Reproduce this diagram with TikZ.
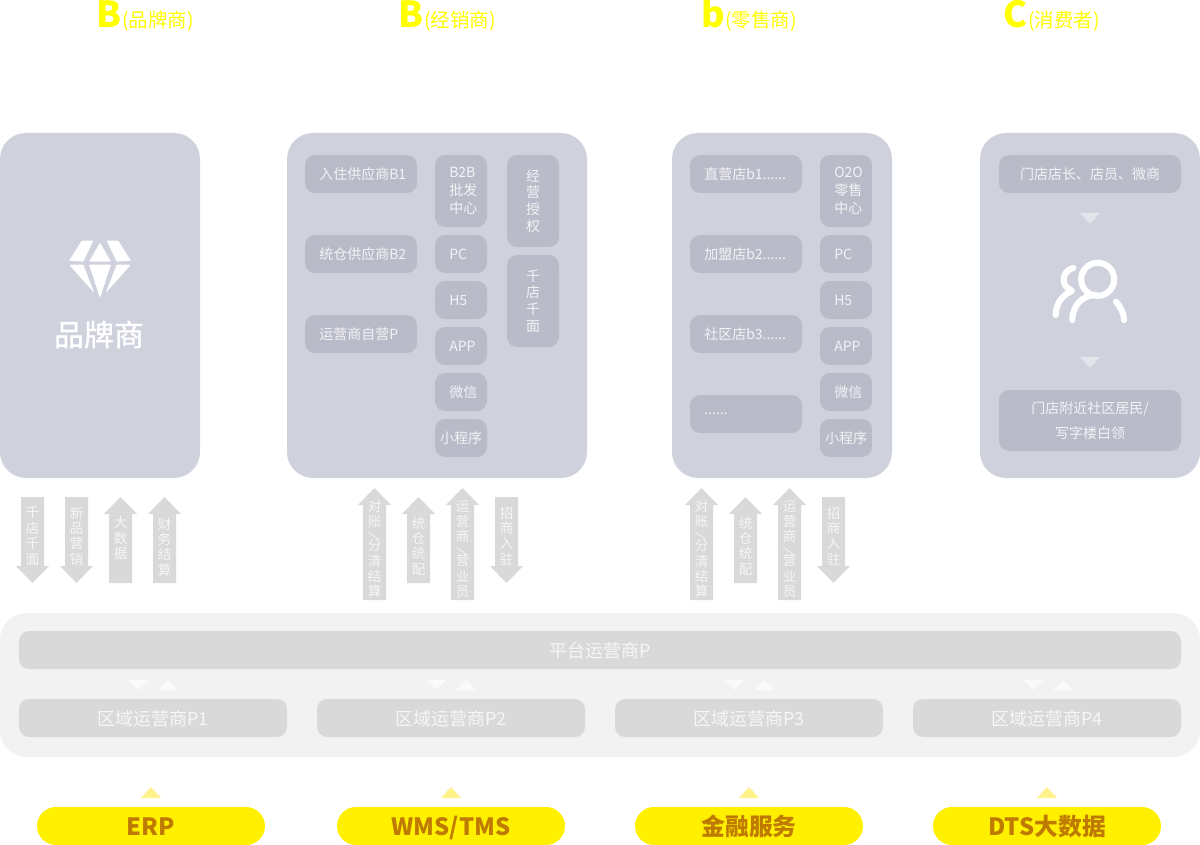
\documentclass[tikz,border=0pt]{standalone}
\usepackage{fontspec}
\usepackage{graphicx}
\setmainfont{Noto Sans CJK SC}
\newfontfamily\medf{Noto Sans CJK SC Medium}
\newcommand\fz[2]{\fontsize{\dimexpr#1pt*3/4\relax}{\dimexpr#2pt*3/4\relax}\selectfont}
\definecolor{panelc}{HTML}{CFD1DD}
\definecolor{innerc}{HTML}{B9BBC8}
\definecolor{intext}{HTML}{F3F3F6}
\definecolor{platc}{HTML}{F2F2F2}
\definecolor{barc}{HTML}{D9D9D9}
\definecolor{bartext}{HTML}{F6F6F6}
\definecolor{pillc}{HTML}{FFF000}
\definecolor{pilltext}{HTML}{BF7A00}
\definecolor{titlec}{HTML}{FFFF00}
\definecolor{tripale}{HTML}{E4E5EB}
\definecolor{triyel}{HTML}{FFF28A}
\definecolor{triwhite}{HTML}{FAFAFA}
\tikzset{
  x=0.75pt,y=-0.75pt,
  panelbox/.style={fill=panelc,rounded corners=19.5pt},
  innerbox/.style={fill=innerc,rounded corners=7.5pt},
  platbox/.style={fill=platc,rounded corners=20pt},
  barbox/.style={fill=barc,rounded corners=7.5pt},
  pillbox/.style={fill=pillc,rounded corners=14.25pt},
  intxt/.style={text=intext,inner sep=0pt,align=center,font=\fz{14}{18.3}},
  inleft/.style={text=intext,inner sep=0pt,align=left,anchor=west,font=\fz{14}{18.3}},
  stacktxt/.style={text=intext,inner sep=0pt,align=center,font=\fz{14}{16.7}},
  bartxt/.style={text=bartext,inner sep=0pt,align=center,yshift=-0.5pt,font=\fz{17.9}{20}},
  pilltxt/.style={text=pilltext,inner sep=0pt,text height=17pt,text depth=3pt,font=\fz{23.8}{28}\bfseries},
  arrtxt/.style={text=bartext,inner sep=0pt,align=center,font=\fz{13.5}{15.4}},
  bigletter/.style={text=titlec,inner sep=0pt,anchor=base west,font=\fz{36}{40}\bfseries},
  smalltitle/.style={text=titlec,inner sep=0pt,anchor=base west,font=\fz{19.5}{22}},
  iconline/.style={draw=white,line width=4.6pt,line cap=round,line join=round},
  gem/.style={fill=white,rounded corners=0.6pt},
}
% name, x1,y1,x2,y2, text
\newcommand\ibox[6]{\path[innerbox] (#2,#3) rectangle (#4,#5) node[pos=.5,intxt] (#1) {#6};}
\newcommand\lbox[6]{\fill[innerbox] (#2,#3) rectangle (#4,#5);
  \node[inleft] (#1) at (#2+14,#3/2+#5/2) {#6};}
\newcommand\stbox[6]{\path[innerbox] (#2,#3) rectangle (#4,#5) node[pos=.5,stacktxt] (#1) {#6};}
\newcommand\bbox[6]{\path[barbox] (#2,#3) rectangle (#4,#5) node[pos=.5,bartxt] (#1) {#6};}
\newcommand\pbox[6]{\path[pillbox] (#2,#3) rectangle (#4,#5) node[pos=.5,pilltxt] (#1) {#6};}
% name, cx, top, bottom, text centre y, text
\newcommand\uparr[6]{\fill[barc] (#2,#3) -- (#2+16.5,#3+17) -- (#2+11.5,#3+17) -- (#2+11.5,#4) -- (#2-11.5,#4) -- (#2-11.5,#3+17) -- (#2-16.5,#3+17) -- cycle;
  \node[arrtxt] (#1) at (#2,#5) {#6};}
\newcommand\dnarr[6]{\fill[barc] (#2,#4) -- (#2+16.5,#4-17) -- (#2+11.5,#4-17) -- (#2+11.5,#3) -- (#2-11.5,#3) -- (#2-11.5,#4-17) -- (#2-16.5,#4-17) -- cycle;
  \node[arrtxt] (#1) at (#2,#5) {#6};}
\newcommand\tridn[4]{\fill[#4] (#1-10,#2) -- (#1+10,#2) -- (#1,#3) -- cycle;}
\newcommand\triup[4]{\fill[#4] (#1-10,#3) -- (#1+10,#3) -- (#1,#2) -- cycle;}
\newcommand\rs{\raisebox{1.2pt}{\rotatebox[origin=c]{72}{/}}}
\begin{document}
\begin{tikzpicture}
\useasboundingbox (0,0) rectangle (1200,845);
\fill[white] (0,0) rectangle (1200,845);

% titles
\node[bigletter] (t1) at (96,28) {B};
\node[smalltitle] (t1s) at (122,28) {(品牌商)};
\node[bigletter] (t2) at (398,28) {B};
\node[smalltitle] (t2s) at (424,28) {(经销商)};
\node[bigletter] (t3) at (701,28) {b};
\node[smalltitle] (t3s) at (725,28) {(零售商)};
\node[bigletter] (t4) at (1003,28) {C};
\node[smalltitle] (t4s) at (1028,28) {(消费者)};

% panels
\fill[panelbox] (0,133) rectangle (200,478);
\fill[panelbox] (287,133) rectangle (587,478);
\fill[panelbox] (672,133) rectangle (892,478);
\fill[panelbox] (980,133) rectangle (1200,478);

% brand panel
\fill[gem] (69,260.7) -- (81.7,240.7) -- (93.3,240.7) -- (83.3,261.7) -- cycle;
\fill[gem] (100,242.7) -- (111,261.7) -- (89,261.7) -- cycle;
\fill[gem] (106.7,240.7) -- (118.3,240.7) -- (131,260.7) -- (116.7,261.7) -- cycle;
\fill[gem] (69,264.5) -- (83.3,264.5) -- (94.3,293) -- cycle;
\fill[gem] (89,264.5) -- (111,264.5) -- (100,298) -- cycle;
\fill[gem] (116.7,264.5) -- (131,264.5) -- (105.7,293) -- cycle;
\node[text=white,inner sep=0pt,font=\fz{30}{32}\medf] (brand) at (99,335.5) {品牌商};

% distributor
\lbox{d1}{305}{155}{417}{193}{入住供应商B1}
\lbox{d2}{305}{235}{417}{273}{统仓供应商B2}
\lbox{d3}{305}{315}{417}{353}{运营商自营P}
\lbox{d4}{435}{155}{487}{227}{B2B\\批发\\中心}
\lbox{d5}{435}{235}{487}{273}{PC}
\lbox{d6}{435}{281}{487}{319}{H5}
\lbox{d7}{435}{327}{487}{365}{APP}
\lbox{d8}{435}{373}{487}{411}{微信}
\ibox{d9}{435}{419}{487}{457}{小程序}
\stbox{d10}{507}{155}{559}{247}{经\\营\\授\\权}
\stbox{d11}{507}{255}{559}{347}{千\\店\\千\\面}

% retail
\lbox{r1}{690}{155}{802}{193}{直营店b1......}
\lbox{r2}{690}{235}{802}{273}{加盟店b2......}
\lbox{r3}{690}{315}{802}{353}{社区店b3......}
\lbox{r4}{690}{395}{802}{433}{......}
\lbox{r5}{820}{155}{872}{227}{O2O\\零售\\中心}
\lbox{r6}{820}{235}{872}{273}{PC}
\lbox{r7}{820}{281}{872}{319}{H5}
\lbox{r8}{820}{327}{872}{365}{APP}
\lbox{r9}{820}{373}{872}{411}{微信}
\ibox{r10}{820}{419}{872}{457}{小程序}

% consumer
\ibox{c1}{999}{155}{1181}{193}{门店店长、店员、微商}
\ibox{c2}{999}{390}{1181}{451}{门店附近社区居民/\\[5.25pt]写字楼白领}
\tridn{1090}{213}{224}{tripale}
\tridn{1090}{357}{368}{tripale}
\draw[iconline] (1097.7,279.3) circle (16.5);
\draw[iconline] (1072.3,320) .. controls (1072.3,306) and (1082,295) .. (1096,295);
\draw[iconline] (1116,301.7) .. controls (1120,306) and (1124,313) .. (1124,320);
\draw[iconline] (1073.3,268) .. controls (1066,270) and (1063.7,275) .. (1063.7,280) .. controls (1063.7,285) and (1067,288) .. (1072,291) .. controls (1062,295) and (1055.7,304) .. (1055.7,315);

% arrows, brand
\dnarr{a1}{32.5}{497}{583}{536}{千\\店\\千\\面}
\dnarr{a2}{76.5}{497}{583}{536}{新\\品\\营\\销}
\uparr{a3}{120.5}{497}{583}{538}{大\\数\\据}
\uparr{a4}{164.5}{497}{583}{547}{财\\务\\结\\算}

% arrows, distributor
\uparr{a5}{374.5}{488}{600}{549}{对\\账\\\rs\\[-5.25pt]分\\清\\结\\算}
\uparr{a6}{418.5}{497}{583}{546}{统\\仓\\统\\配}
\uparr{a7}{462.5}{488}{600}{549}{运\\营\\商\\\rs\\[-5.25pt]营\\业\\员}
\dnarr{a8}{506.5}{497}{583}{536}{招\\商\\入\\驻}

% arrows, retail
\uparr{a9}{701.5}{488}{600}{549}{对\\账\\\rs\\[-5.25pt]分\\清\\结\\算}
\uparr{a10}{745.5}{497}{583}{546}{统\\仓\\统\\配}
\uparr{a11}{789.5}{488}{600}{549}{运\\营\\商\\\rs\\[-5.25pt]营\\业\\员}
\dnarr{a12}{833.5}{497}{583}{536}{招\\商\\入\\驻}

% platform
\fill[platbox] (0,613) rectangle (1200,757);
\bbox{p0}{19}{631}{1181}{669}{平台运营商P}
\bbox{p1}{19}{699}{287}{737}{区域运营商P1}
\bbox{p2}{317}{699}{585}{737}{区域运营商P2}
\bbox{p3}{615}{699}{883}{737}{区域运营商P3}
\bbox{p4}{913}{699}{1181}{737}{区域运营商P4}
\tridn{138.5}{680}{690}{triwhite}\triup{168.5}{680}{690}{triwhite}
\tridn{436.5}{680}{690}{triwhite}\triup{466}{680}{690}{triwhite}
\tridn{734.5}{680}{690}{triwhite}\triup{764.5}{680}{690}{triwhite}
\tridn{1033}{680}{690}{triwhite}\triup{1063}{680}{690}{triwhite}

% bottom
\triup{151}{787}{798}{triyel}
\triup{451}{787}{798}{triyel}
\triup{749}{787}{798}{triyel}
\triup{1047}{787}{798}{triyel}
\pbox{e1}{37}{807}{265}{845}{ERP}
\pbox{e2}{337}{807}{565}{845}{WMS/TMS}
\pbox{e3}{635}{807}{863}{845}{金融服务}
\pbox{e4}{933}{807}{1161}{845}{DTS大数据}
\end{tikzpicture}
\end{document}
